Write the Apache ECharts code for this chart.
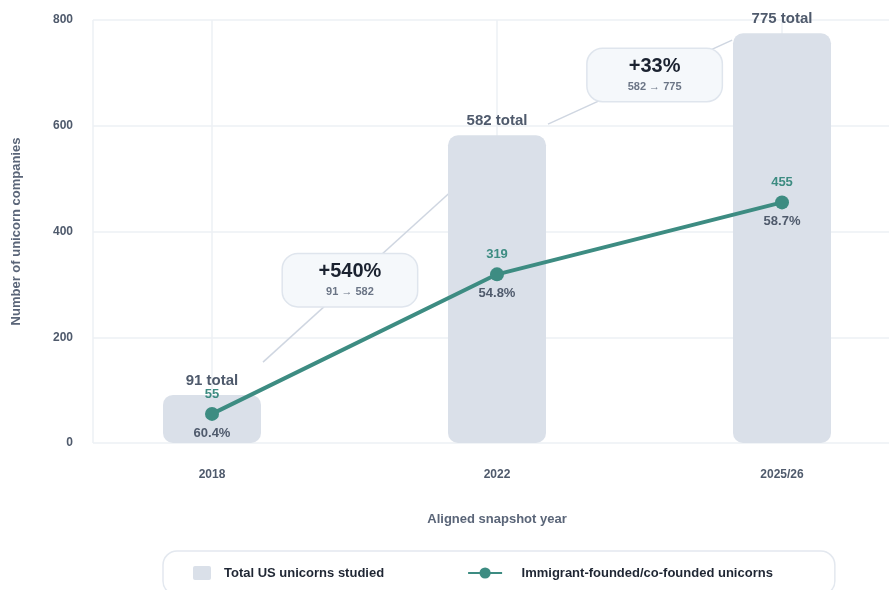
<!DOCTYPE html>
<html>
<head>
<meta charset="utf-8">
<title>US unicorns: total vs immigrant-founded</title>
<script src="https://cdn.jsdelivr.net/npm/echarts@6/dist/echarts.min.js"></script>
<style>
  html, body { margin: 0; padding: 0; background: #ffffff; }
  #chart { width: 889px; height: 590px; }
</style>
</head>
<body>
<div id="chart"></div>
<script>
// Snapshot years and counts
const categories = ['2018', '2022', '2025/26'];
const totalUnicorns = [91, 582, 775];
const immigrantUnicorns = [55, 319, 455];
const immigrantShare = ['60.4%', '54.8%', '58.7%'];
const growthChange = ['+540%', '+33%'];
const growthSpan = ['91 → 582', '582 → 775'];
const yTickMax = 800;
const yTickStep = 200;

const FONT = '"Liberation Sans", Arial, sans-serif';
const TEAL = '#3d8c82';
const BAR = '#dae0e9';
const GRID = '#edf0f5';
const LABEL = '#4f5a6c';
const NAME_TOTAL = 'Total US unicorns studied';
const NAME_IMMIGRANT = 'Immigrant-founded/co-founded unicorns';

const chart = echarts.init(document.getElementById('chart'), null, { renderer: 'canvas' });

const xIdx = categories.map((_, i) => i);

chart.setOption({
  animation: false,
  backgroundColor: '#ffffff',
  textStyle: { fontFamily: FONT },
  grid: { left: 93, right: -12, top: 20, bottom: 147, outerBoundsMode: 'none', containLabel: false },
  legend: {
    left: 163,
    top: 551,
    padding: [15, 62, 15, 30],
    itemGap: 83,
    itemWidth: 34,
    itemHeight: 14,
    symbolKeepAspect: true,
    backgroundColor: '#ffffff',
    borderColor: '#e3e8ef',
    borderWidth: 1.5,
    borderRadius: 14,
    textStyle: { color: '#1f2633', fontSize: 13, fontWeight: 'bold', fontFamily: FONT },
    formatter: name => (name === NAME_IMMIGRANT ? '    ' + name : name),
    data: [
      { name: NAME_TOTAL, icon: 'path://M2,0 h14 a2,2 0 0 1 2,2 v10 a2,2 0 0 1 -2,2 h-14 a2,2 0 0 1 -2,-2 v-10 a2,2 0 0 1 2,-2 z' },
      { name: NAME_IMMIGRANT }
    ]
  },
  xAxis: {
    type: 'value',
    min: -0.4175,
    max: 2.4175,
    name: 'Aligned snapshot year',
    nameLocation: 'middle',
    nameGap: 70,
    nameTextStyle: { color: '#5a6578', fontSize: 13, fontWeight: 'bold', fontFamily: FONT },
    axisLine: { show: false },
    axisTick: { show: false, customValues: [-0.4175].concat(xIdx) },
    axisLabel: {
      customValues: xIdx,
      formatter: v => categories[Math.round(v)] || '',
      color: LABEL, fontSize: 12, fontWeight: 'bold', margin: 26, fontFamily: FONT
    },
    splitLine: { show: true, lineStyle: { color: GRID, width: 1.5 } }
  },
  yAxis: {
    type: 'value',
    min: 0,
    max: yTickMax,
    interval: yTickStep,
    name: 'Number of unicorn companies',
    nameLocation: 'middle',
    nameGap: 70,
    nameTextStyle: { color: '#5a6578', fontSize: 13, fontWeight: 'bold', fontFamily: FONT },
    axisLine: { show: false },
    axisTick: { show: false },
    axisLabel: { color: LABEL, fontSize: 12, fontWeight: 'bold', margin: 20, fontFamily: FONT },
    splitLine: { lineStyle: { color: GRID, width: 1.5 } }
  },
  series: [
    {
      name: NAME_TOTAL,
      type: 'bar',
      barWidth: 98,
      z: 2,
      itemStyle: { color: BAR, borderRadius: 10 },
      label: {
        show: true,
        position: 'top',
        distance: 7,
        formatter: p => p.value[1] + ' total',
        color: LABEL, fontSize: 15, fontWeight: 'bold', fontFamily: FONT
      },
      data: totalUnicorns.map((v, i) => [i, v])
    },
    {
      name: NAME_IMMIGRANT,
      type: 'line',
      z: 4,
      symbol: 'circle',
      symbolSize: 14,
      lineStyle: { color: TEAL, width: 4 },
      itemStyle: { color: TEAL },
      label: {
        show: true,
        position: 'inside',
        formatter: p => '{v|' + p.value[1] + '}\n{g| }\n{p|' + immigrantShare[p.dataIndex] + '}',
        rich: {
          v: { color: TEAL, fontSize: 13, fontWeight: 'bold', lineHeight: 18, fontFamily: FONT },
          g: { fontSize: 2, lineHeight: 21 },
          p: { color: LABEL, fontSize: 13, fontWeight: 'bold', lineHeight: 18, fontFamily: FONT }
        }
      },
      data: immigrantUnicorns.map((v, i) => [i, v])
    },
    {
      // growth callouts between snapshots
      name: 'growth',
      type: 'line',
      data: [],
      silent: true,
      markLine: {
        z: 1,
        silent: true,
        symbol: 'none',
        label: { show: false },
        lineStyle: { color: '#cfd6e1', width: 1.5, type: 'solid' },
        data: [
          [{ coord: [0.179, 153] }, { coord: [0.86, 486] }],
          [{ coord: [1.179, 603] }, { coord: [1.825, 762] }]
        ]
      },
      markPoint: {
        z: 6,
        silent: true,
        symbol: 'circle',
        symbolSize: 0,
        itemStyle: { color: 'rgba(0,0,0,0)' },
        label: {
          show: true,
          position: 'inside',
          width: 134,
          height: 42,
          padding: [5, 0, 5, 0],
          align: 'center',
          backgroundColor: '#f5f8fb',
          borderColor: '#dfe5ed',
          borderWidth: 1.5,
          borderRadius: 15,
          formatter: p => '{big|' + growthChange[p.dataIndex] + '}\n{small|' + growthSpan[p.dataIndex] + '}',
          rich: {
            big: { color: '#1b2230', fontSize: 20, fontWeight: 'bold', lineHeight: 24, align: 'center', fontFamily: FONT },
            small: { color: '#6b7586', fontSize: 11, fontWeight: 'bold', lineHeight: 18, align: 'center', fontFamily: FONT }
          }
        },
        data: [
          { coord: [0.484, 308] },
          { coord: [1.553, 696] }
        ]
      }
    }
  ]
});
</script>
</body>
</html>
